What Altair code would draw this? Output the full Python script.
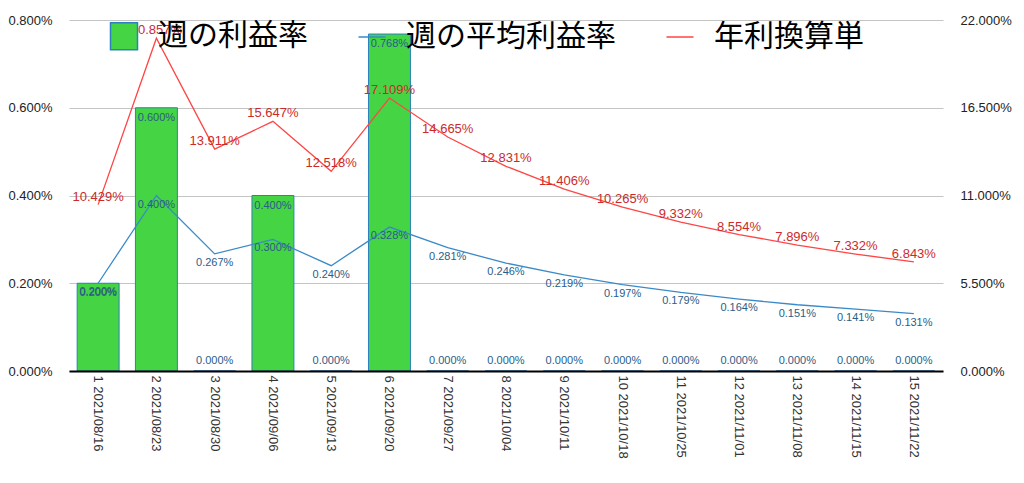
import altair as alt
import pandas as pd

dates = ["2021/08/16", "2021/08/23", "2021/08/30", "2021/09/06", "2021/09/13",
         "2021/09/20", "2021/09/27", "2021/10/04", "2021/10/11", "2021/10/18",
         "2021/10/25", "2021/11/01", "2021/11/08", "2021/11/15", "2021/11/22"]
labels = [f"{i + 1} {d}" for i, d in enumerate(dates)]

# values in percent
weekly = [0.200, 0.600, 0.000, 0.400, 0.000, 0.768, 0.000, 0.000, 0.000, 0.000,
          0.000, 0.000, 0.000, 0.000, 0.000]
avg = [0.200, 0.400, 0.267, 0.300, 0.240, 0.328, 0.281, 0.246, 0.219, 0.197,
       0.179, 0.164, 0.151, 0.141, 0.131]
annual = [10.429, 20.857, 13.911, 15.647, 12.518, 17.109, 14.665, 12.831, 11.406,
          10.265, 9.332, 8.554, 7.896, 7.332, 6.843]

series_names = ["週の利益率", "週の平均利益率", "年利換算単"]
left_ticks = [0, 0.002, 0.004, 0.006, 0.008]
right_ticks = [0, 0.055, 0.11, 0.165, 0.22]

df = pd.DataFrame({
    "label": labels,
    "weekly": [v / 100 for v in weekly],
    "avg": [v / 100 for v in avg],
    "annual": [v / 100 for v in annual],
})
legend_df = pd.DataFrame({"series": series_names})

FONT = "Liberation Sans"
GREEN = "#44d444"
BLUE = "#3a8ac8"
BAR_EDGE = "#2b80c0"
RED = "#ff4545"
BLUE_TXT = "#2a5d88"
RED_TXT = "#cc2a2a"

x = alt.X(
    "label:N", sort=labels, title=None,
    scale=alt.Scale(paddingInner=0.28, paddingOuter=0.14),
    axis=alt.Axis(labelAngle=90, labelAlign="left", labelBaseline="middle",
                  ticks=False, domain=True, domainColor="black", domainWidth=2,
                  labelPadding=4, labelFontSize=13, labelColor="#333",
                  labelFont=FONT, grid=False, zindex=1),
)

left_axis = alt.Axis(values=left_ticks, format=".3%", title=None, grid=True,
                     gridColor="#c4c4c4", gridWidth=1, domain=False, ticks=False,
                     labelPadding=17, labelFontSize=13, labelColor="#222",
                     labelFont=FONT, orient="left")
right_axis = alt.Axis(values=right_ticks, format=".3%", title=None, grid=False,
                      domain=False, ticks=False, labelPadding=17, labelFontSize=13,
                      labelColor="#222", labelFont=FONT, orient="right")


def yl(field):
    return alt.Y(f"{field}:Q", scale=alt.Scale(domain=[0, 0.008], nice=False),
                 axis=left_axis)


def yr(field):
    return alt.Y(f"{field}:Q", scale=alt.Scale(domain=[0, 0.22], nice=False),
                 axis=right_axis)


base = alt.Chart(df)

bars = base.mark_bar(color=GREEN, stroke=BAR_EDGE, strokeWidth=1).encode(
    x=x, y=yl("weekly"))
bar_lab_nz = base.transform_filter("datum.weekly > 0").mark_text(
    fontSize=11, font=FONT, color=BLUE_TXT, baseline="middle", dy=10).encode(
    x=x, y=yl("weekly"), text=alt.Text("weekly:Q", format=".3%"))
bar_lab_z = base.transform_filter("datum.weekly <= 0").mark_text(
    fontSize=11, font=FONT, color=BLUE_TXT, baseline="middle", dy=-10).encode(
    x=x, y=yl("weekly"), text=alt.Text("weekly:Q", format=".3%"))
avg_line = base.mark_line(color=BLUE, strokeWidth=1.3).encode(x=x, y=yl("avg"))
avg_lab = base.mark_text(fontSize=11, font=FONT, color=BLUE_TXT,
                         baseline="middle", dy=9).encode(
    x=x, y=yl("avg"), text=alt.Text("avg:Q", format=".3%"))

leg = alt.Legend(
    title=None, orient="none", legendX=40, legendY=1,
    direction="horizontal", labelFontSize=30,
    labelFont="Noto Sans CJK JP", labelColor="black", labelLimit=500,
    symbolSize=729, symbolStrokeWidth=1.5, labelOffset=19,
    columnPadding=47, padding=0, symbolOpacity=1,
)

legend_layer = alt.Chart(legend_df).mark_point(opacity=0, filled=True).encode(
    fill=alt.Fill("series:N", scale=alt.Scale(domain=series_names,
                                              range=[GREEN, "transparent", "transparent"]),
                  legend=leg),
    stroke=alt.Stroke("series:N", scale=alt.Scale(domain=series_names,
                                                  range=[BAR_EDGE, BLUE, RED]),
                      legend=leg),
    shape=alt.Shape("series:N", scale=alt.Scale(domain=series_names,
                                                range=["square", "stroke", "stroke"]),
                    legend=leg),
)

left = alt.layer(bars, bar_lab_nz, bar_lab_z, avg_line, avg_lab, legend_layer)

ann_line = base.mark_line(color=RED, strokeWidth=1.3).encode(x=x, y=yr("annual"))
ann_lab = base.mark_text(fontSize=13, font=FONT, color=RED_TXT,
                         baseline="middle", dy=-8).encode(
    x=x, y=yr("annual"), text=alt.Text("annual:Q", format=".3%"))
right = alt.layer(ann_line, ann_lab)

chart = alt.layer(left, right).resolve_scale(y="independent").properties(
    width=874, height=351,
    autosize=alt.AutoSizeParams(type="none"),
    padding={"left": 69, "top": 20, "right": 81, "bottom": 112},
    background="white",
).configure_view(fill="#e8e8e8", strokeWidth=0)

chart.save("out.html", embed_options={"renderer": "svg", "actions": False})
